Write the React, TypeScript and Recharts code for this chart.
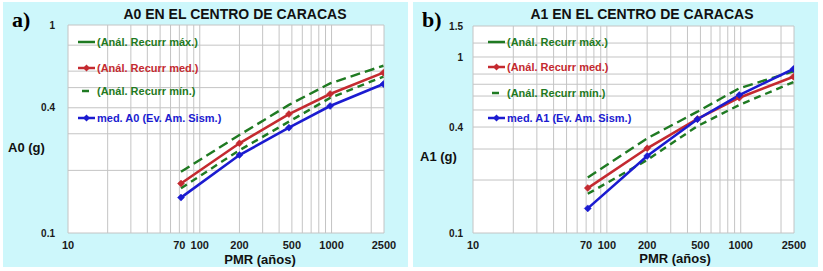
import React from 'react';
import { LineChart, Line, XAxis, YAxis, CartesianGrid, Legend } from 'recharts';

// ---- data ----
const periods = [72, 200, 475, 975, 2475];

const a0Max = [0.197, 0.296, 0.413, 0.524, 0.637];
const a0Med = [0.173, 0.27, 0.373, 0.466, 0.59];
const a0Min = [0.164, 0.25, 0.343, 0.446, 0.565];
const a0Obs = [0.148, 0.237, 0.321, 0.408, 0.52];

const a1Max = [0.207, 0.345, 0.489, 0.664, 0.83];
const a1Med = [0.18, 0.303, 0.445, 0.587, 0.773];
const a1Min = [0.167, 0.26, 0.405, 0.534, 0.72];
const a1Obs = [0.138, 0.274, 0.443, 0.608, 0.855];

const xTicks = [10, 70, 100, 200, 500, 1000, 2500];
const xGrid = [10, 20, 30, 40, 50, 60, 70, 80, 90, 100, 200, 300, 400, 500, 600, 700, 800, 900, 1000, 2000, 2500];

const a0YTicks = [0.1, 0.4, 1];
const a0YGrid = [0.1, 0.2, 0.3, 0.4, 0.5, 0.6, 0.8, 1];
const a1YTicks = [0.1, 0.4, 1, 1.5];
const a1YGrid = [0.1, 0.2, 0.3, 0.4, 0.5, 0.6, 0.7, 0.8, 1, 1.2, 1.5];

const legendMax = '(Anál. Recurr máx.)';
const legendMed = '(Anál. Recurr med.)';
const legendMin = '(Anál. Recurr mín.)';
const legendObsA0 = 'med. A0 (Ev. Am. Sism.)';
const legendObsA1 = 'med. A1 (Ev. Am. Sism.)';

// ---- style ----
const GREEN = '#1f7a22';
const RED = '#c42a30';
const BLUE = '#1b1bd0';
const CYAN = '#cdf7fb';
const GRID = '#c4c4c4';
const SANS = '"Liberation Sans", Arial, sans-serif';
const SERIF = '"Liberation Serif", "Times New Roman", serif';

const build = (mx: number[], md: number[], mn: number[], ob: number[]) =>
  periods.map((p, i) => ({ pmr: p, max: mx[i], med: md[i], min: mn[i], obs: ob[i] }));

const diamond = (color: string) => (props: any) => {
  const { cx, cy, index } = props;
  if (cx == null || cy == null) return <g key={index} />;
  const r = 3.5;
  return (
    <path
      key={index}
      d={`M${cx},${cy - r}L${cx + r},${cy}L${cx},${cy + r}L${cx - r},${cy}Z`}
      fill={color}
      stroke={color}
      strokeWidth={0.5}
    />
  );
};

function Txt(props: {
  x: number; y: number; size: number; color?: string; family?: string;
  anchor?: 'left' | 'center'; children: React.ReactNode;
}) {
  const { x, y, size, color = '#111', family = SANS, anchor = 'left', children } = props;
  return (
    <div
      style={{
        position: 'absolute', left: x, top: y, fontSize: size, fontWeight: 700,
        fontFamily: family, color, lineHeight: 1, whiteSpace: 'pre',
        transform: anchor === 'center' ? 'translate(-50%,-50%)' : 'translate(0,-50%)',
      }}
    >
      {children}
    </div>
  );
}

type LegendRow = { label: string; color: string; kind: 'solid' | 'marker' | 'short'; y: number };

const makeLegend = (rows: LegendRow[]) => () => (
  <div style={{ position: 'relative', width: 405, height: 265 }}>
    {rows.map((r, i) => (
      <div key={i}>
        <svg
          style={{ position: 'absolute', left: 74, top: r.y - 5 }}
          width={20} height={10}
        >
          {r.kind === 'short' ? (
            <line x1={5} x2={12} y1={5} y2={5} stroke={r.color} strokeWidth={2.5} />
          ) : (
            <line x1={1} x2={18} y1={5} y2={5} stroke={r.color} strokeWidth={2.5} />
          )}
          {r.kind === 'marker' && (
            <path d="M9.5,1.5L13,5L9.5,8.5L6,5Z" fill={r.color} />
          )}
        </svg>
        <Txt x={94} y={r.y} size={11} color={r.color}>{r.label}</Txt>
      </div>
    ))}
  </div>
);

type PanelProps = {
  left: number; letter: string; title: string; titleX: number; yLabel: string;
  yLabelX: number; yLabelY: number; xLabelX: number; xLabelY: number;
  data: any[]; yDomain: [number, number]; yTicks: number[]; yGrid: number[];
  marginTop: number; yAxisWidth: number; yTickMargin: number; obsLabel: string;
  legendYs: number[];
};

function Panel(p: PanelProps) {
  const rows: LegendRow[] = [
    { label: legendMax, color: GREEN, kind: 'solid', y: p.legendYs[0] },
    { label: legendMed, color: RED, kind: 'marker', y: p.legendYs[1] },
    { label: legendMin, color: GREEN, kind: 'short', y: p.legendYs[2] },
    { label: p.obsLabel, color: BLUE, kind: 'marker', y: p.legendYs[3] },
  ];
  return (
    <div style={{ position: 'absolute', left: p.left, top: 2, width: 405, height: 265, background: CYAN }}>
      <LineChart
        width={405}
        height={265}
        data={p.data}
        margin={{ top: p.marginTop, right: 24, bottom: 4, left: 0 }}
      >
        <CartesianGrid
          fill="#ffffff"
          stroke={GRID}
          strokeWidth={1}
          horizontalValues={p.yGrid}
          verticalValues={xGrid}
        />
        <XAxis
          dataKey="pmr"
          type="number"
          scale="log"
          domain={[10, 2500]}
          allowDataOverflow
          ticks={xTicks}
          interval={0}
          height={30}
          axisLine={false}
          tickLine={false}
          tickSize={0}
          tickMargin={8}
          tick={{ fontSize: 11, fontWeight: 700, fill: '#1a1a1a', fontFamily: SANS }}
        />
        <YAxis
          type="number"
          scale="log"
          domain={p.yDomain}
          allowDataOverflow
          ticks={p.yTicks}
          interval={0}
          width={p.yAxisWidth}
          axisLine={false}
          tickLine={false}
          tickSize={0}
          tickMargin={p.yTickMargin}
          tick={{ fontSize: 10, fontWeight: 700, fill: '#1a1a1a', fontFamily: SANS }}
        />
        <Legend
          layout="vertical"
          align="center"
          verticalAlign="middle"
          wrapperStyle={{ left: 0, top: 0, width: 405, height: 265, pointerEvents: 'none' }}
          content={makeLegend(rows)}
        />
        <Line
          dataKey="max" name={legendMax} stroke={GREEN} strokeWidth={2.4}
          strokeDasharray="10 5" dot={false} isAnimationActive={false}
        />
        <Line
          dataKey="med" name={legendMed} stroke={RED} strokeWidth={2.6}
          dot={diamond(RED)} activeDot={false} isAnimationActive={false}
        />
        <Line
          dataKey="min" name={legendMin} stroke={GREEN} strokeWidth={2.4}
          strokeDasharray="7 5" dot={false} isAnimationActive={false}
        />
        <Line
          dataKey="obs" name={p.obsLabel} stroke={BLUE} strokeWidth={2.6}
          dot={diamond(BLUE)} activeDot={false} isAnimationActive={false}
        />
      </LineChart>
      <Txt x={9} y={18} size={22} family={SERIF} color="#000">{p.letter}</Txt>
      <Txt x={p.titleX} y={12} size={14} anchor="center" color="#111">{p.title}</Txt>
      <Txt x={p.yLabelX} y={p.yLabelY} size={13} color="#111">{p.yLabel}</Txt>
      <Txt x={p.xLabelX} y={p.xLabelY} size={13} anchor="center" color="#111">PMR (años)</Txt>
    </div>
  );
}

export default function App() {
  const dataA0 = build(a0Max, a0Med, a0Min, a0Obs);
  const dataA1 = build(a1Max, a1Med, a1Min, a1Obs);
  return (
    <div style={{ position: 'absolute', left: 0, top: 0, width: 823, height: 271, background: '#ffffff', overflow: 'hidden' }}>
      <Panel
        left={3} letter="a)" title="A0 EN EL CENTRO DE CARACAS" titleX={232}
        yLabel="A0 (g)" yLabelX={5} yLabelY={145} xLabelX={257} xLabelY={257}
        data={dataA0} yDomain={[0.1, 1]} yTicks={a0YTicks} yGrid={a0YGrid}
        marginTop={23} yAxisWidth={65} yTickMargin={13} obsLabel={legendObsA0}
        legendYs={[40, 66, 89, 116]}
      />
      <Panel
        left={413} letter="b)" title="A1 EN EL CENTRO DE CARACAS" titleX={229}
        yLabel="A1 (g)" yLabelX={7} yLabelY={154} xLabelX={262} xLabelY={256}
        data={dataA1} yDomain={[0.1, 1.5]} yTicks={a1YTicks} yGrid={a1YGrid}
        marginTop={24} yAxisWidth={60} yTickMargin={10} obsLabel={legendObsA1}
        legendYs={[40, 65, 91, 116]}
      />
    </div>
  );
}
